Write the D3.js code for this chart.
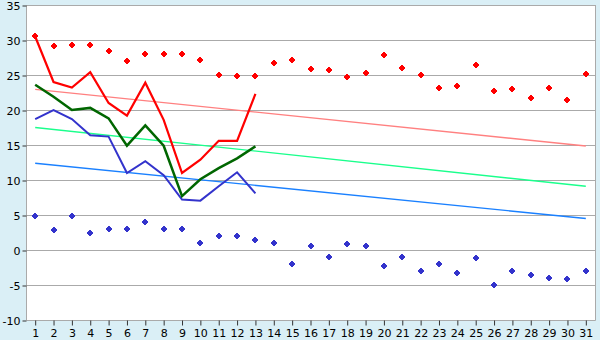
<!DOCTYPE html>
<html>
<head>
<meta charset="utf-8">
<script src="https://cdn.jsdelivr.net/npm/d3@7"></script>
<style>
  body { margin: 0; background: #daeff6; }
  svg { display: block; }
  text { font-family: "DejaVu Sans", Verdana, sans-serif; font-size: 11px; fill: #000; }
</style>
</head>
<body>
<svg id="chart" width="600" height="340"></svg>
<script>
// days of the month
const days = d3.range(1, 32);
const yTicks = [-10, -5, 0, 5, 10, 15, 20, 25, 30, 35];

// lines (first 13 days)
const redLine   = [30.5, 24.0, 23.2, 25.4, 21.0, 19.2, 23.9, 18.6, 11.0, 12.9, 15.6, 15.6, 22.3];
const greenLine = [23.6, 21.9, 20.0, 20.3, 18.8, 14.9, 17.8, 14.9, 7.7, 10.1, 11.7, 13.1, 14.8];
const blueLine  = [18.7, 20.0, 18.7, 16.4, 16.2, 11.0, 12.7, 10.7, 7.2, 7.05, 9.1, 11.1, 8.1];

// scatter markers
const redPoints = [30.5, 29.1, 29.3, 29.3, 28.5, 26.95, 28.0, 28.0, 28.0, 27.1,
                   24.95, 24.8, 24.8, 26.7, 27.2, 25.8, 25.7, 24.7, 25.3, 27.8,
                   25.95, 24.95, 23.1, 23.4, 26.4, 22.7, 22.95, 21.7, 23.2, 21.5, 25.2];
const bluePoints = [4.8, 2.9, 4.9, 2.4, 3.0, 3.0, 3.95, 3.0, 3.0, 0.95,
                    1.95, 1.95, 1.5, 0.95, -2.05, 0.5, -1.05, 0.8, 0.5, -2.3,
                    -1.05, -3.05, -2.05, -3.35, -1.2, -5.05, -3.05, -3.6, -4.05, -4.2, -3.05];

// trend lines: value at day 1 and day 31
const redTrend   = [22.95, 14.85];
const greenTrend = [17.5, 9.1];
const blueTrend  = [12.4, 4.5];

let svg = d3.select("#chart");
let plotLeft = 26, plotRight = 595, plotTop = 5, plotBottom = 320;

let xScale = d3.scaleBand().domain(days).range([plotLeft, plotRight]);
let xPos = d => xScale(d) + xScale.bandwidth() / 2;
let yScale = d3.scaleLinear().domain([-10, 35]).range([plotBottom, plotTop]);

svg.append("rect")
    .attr("x", plotLeft).attr("y", plotTop)
    .attr("width", plotRight - plotLeft).attr("height", plotBottom - plotTop)
    .attr("fill", "#fff");

// gridlines
svg.append("g")
    .selectAll("line").data(yTicks).enter().append("line")
    .attr("x1", plotLeft).attr("x2", plotRight)
    .attr("y1", d => Math.round(yScale(d)) + 0.5)
    .attr("y2", d => Math.round(yScale(d)) + 0.5)
    .attr("stroke", "#aaa");

svg.append("line")
    .attr("x1", plotLeft + 0.5).attr("x2", plotLeft + 0.5)
    .attr("y1", plotTop).attr("y2", plotBottom)
    .attr("stroke", "#aaa");
svg.append("line")
    .attr("x1", plotRight + 0.5).attr("x2", plotRight + 0.5)
    .attr("y1", plotTop).attr("y2", plotBottom + 0.5)
    .attr("stroke", "#aaa");

let yAxis = d3.axisLeft(yScale).tickValues(yTicks)
    .tickFormat(d => String(d))
    .tickSize(4).tickPadding(2);
svg.append("g")
    .attr("transform", "translate(" + (plotLeft + 0.5) + ",0.5)")
    .call(yAxis)
    .call(g => g.select(".domain").remove())
    .call(g => g.selectAll(".tick line").attr("stroke", "#333"))
    .selectAll("text").style("font-size", "11px");

let xAxis = d3.axisBottom(xScale).tickSize(5).tickPadding(4);
svg.append("g")
    .attr("transform", "translate(0.5," + (plotBottom + 0.5) + ")")
    .call(xAxis)
    .call(g => g.select(".domain").attr("stroke", "#aaa").attr("d", "M" + plotLeft + ",0H" + plotRight))
    .call(g => g.selectAll(".tick line").attr("stroke", "#333"));

// trend lines
let trends = [[redTrend, "#ff8080"], [greenTrend, "#1aff8c"], [blueTrend, "#1a80ff"]];
trends.forEach(function (t) {
    svg.append("line")
        .attr("x1", xPos(days[0])).attr("y1", yScale(t[0][0]))
        .attr("x2", xPos(days[days.length - 1])).attr("y2", yScale(t[0][1]))
        .attr("stroke", t[1]).attr("stroke-width", 1.4);
});

// day lines
let line = d3.line()
    .x((d, i) => xPos(days[i]))
    .y(d => yScale(d));

svg.append("path").datum(blueLine)
    .attr("d", line).attr("fill", "none")
    .attr("stroke", "#3333cc").attr("stroke-width", 2);
svg.append("path").datum(greenLine)
    .attr("d", line).attr("fill", "none")
    .attr("stroke", "#006600").attr("stroke-width", 2.5);
svg.append("path").datum(redLine)
    .attr("d", line).attr("fill", "none")
    .attr("stroke", "#ff0000").attr("stroke-width", 2.2);

// marker shape: small rounded cross
let marker = "M-1,-3H1V-2H2V-1H3V1H2V2H1V3H-1V2H-2V1H-3V-1H-2V-2H-1Z";

function drawPoints(values, color) {
    svg.append("g")
        .selectAll("path").data(values).enter().append("path")
        .attr("d", marker)
        .attr("shape-rendering", "crispEdges")
        .attr("transform", (d, i) => "translate(" + Math.round(xPos(days[i])) + "," + Math.round(yScale(d)) + ")")
        .attr("fill", color);
}
drawPoints(redPoints, "#ff0000");
drawPoints(bluePoints, "#3333cc");
</script>
</body>
</html>
